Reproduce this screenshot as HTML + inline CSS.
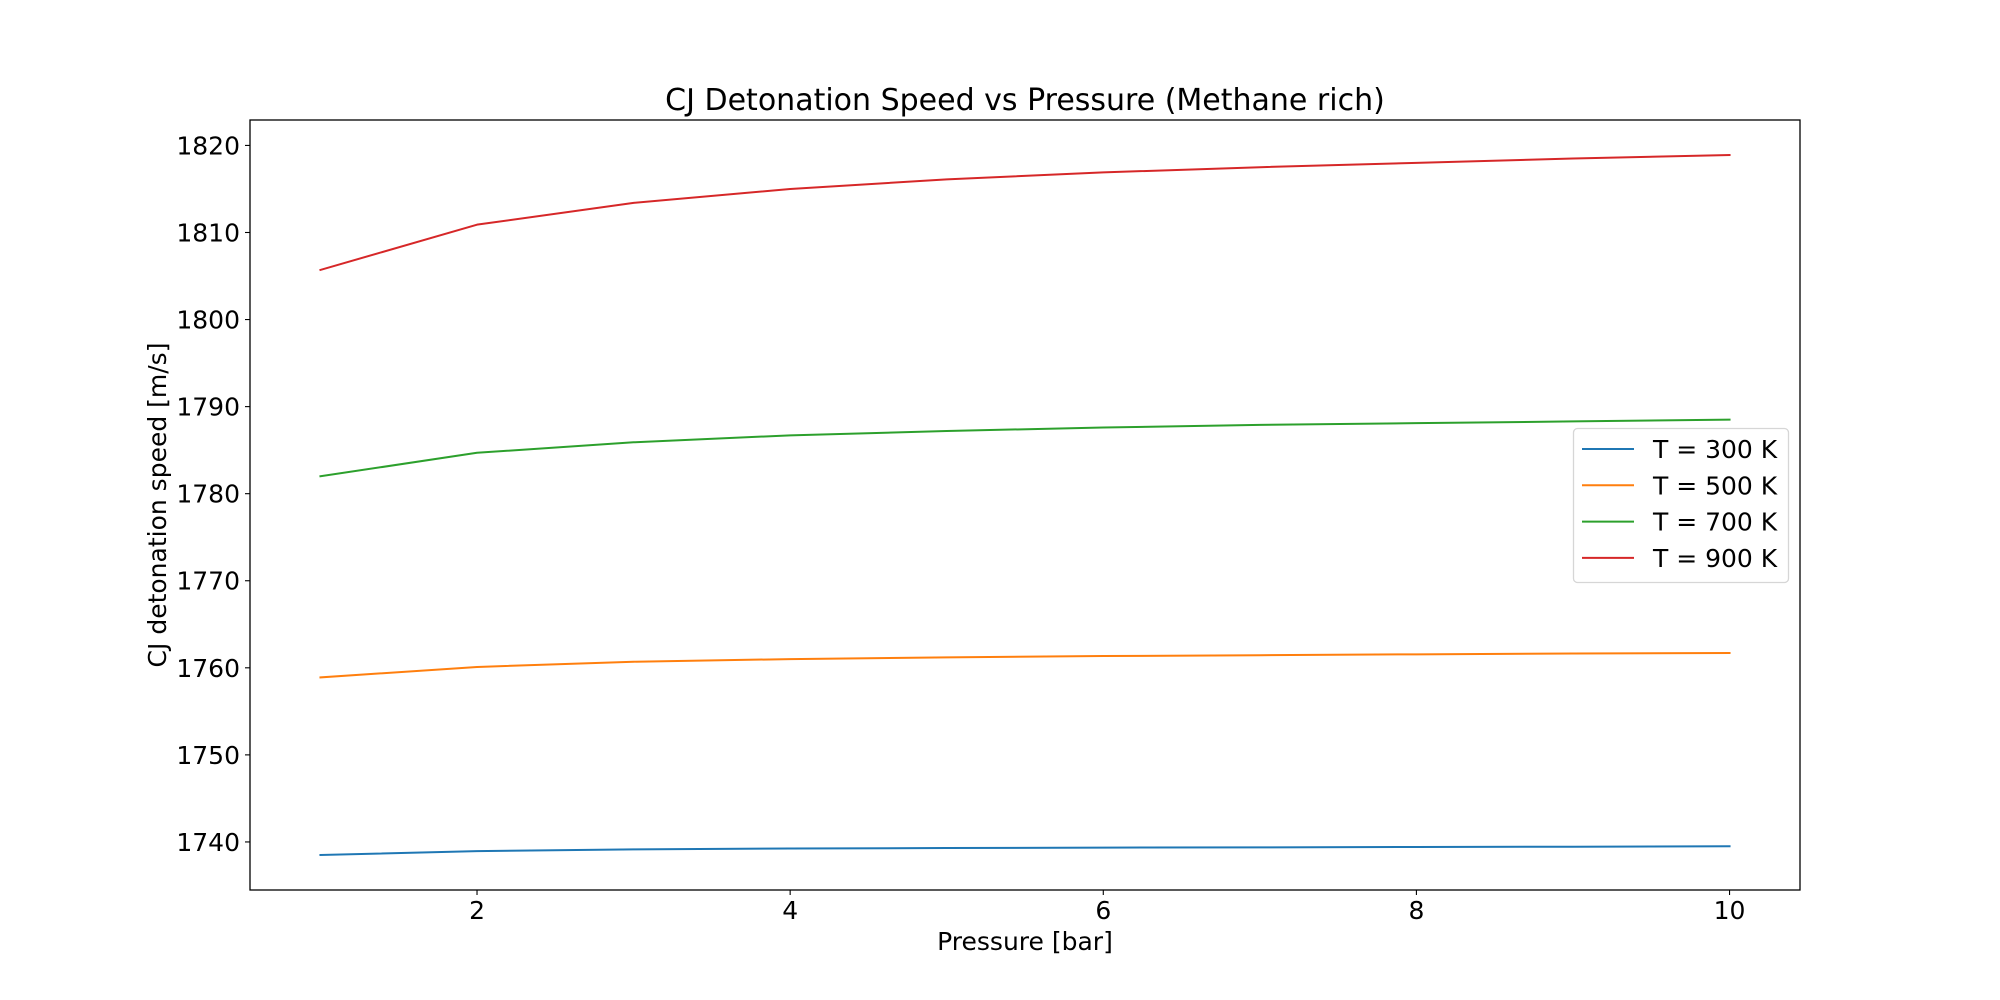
<!DOCTYPE html>
<html><head><meta charset="utf-8"><style>
html,body{margin:0;padding:0;background:#fff;}
svg{display:block;font-family:"DejaVu Sans","Liberation Sans",sans-serif;}
</style></head><body>
<svg id="chart" width="2000" height="1000" viewBox="0 0 2000 1000" xmlns="http://www.w3.org/2000/svg"></svg>
<script>
const pressures = [1,2,3,4,5,6,7,8,9,10];
const t300 = [1738.5,1738.95,1739.15,1739.25,1739.3,1739.35,1739.38,1739.42,1739.45,1739.5];
const t500 = [1758.9,1760.1,1760.7,1761.0,1761.2,1761.35,1761.45,1761.55,1761.65,1761.7];
const t700 = [1782.0,1784.7,1785.9,1786.7,1787.2,1787.6,1787.9,1788.1,1788.3,1788.5];
const t900 = [1805.7,1810.9,1813.4,1815.0,1816.1,1816.9,1817.5,1818.0,1818.5,1818.9];
const seriesLabels = ["T = 300 K","T = 500 K","T = 700 K","T = 900 K"];
const seriesColors = ["#1f77b4","#ff7f0e","#2ca02c","#d62728"];
const xTicks = [2,4,6,8,10];
const yTicks = [1740,1750,1760,1770,1780,1790,1800,1810,1820];

const NS="http://www.w3.org/2000/svg";
const svg=document.getElementById('chart');
const L=250,R=1800,T=120,B=890;
const allS=[t300,t500,t700,t900];
let ymin=Math.min(...allS.flat()),ymax=Math.max(...allS.flat());
const yp=(ymax-ymin)*0.05; ymin-=yp; ymax+=yp;
let xmin=Math.min(...pressures),xmax=Math.max(...pressures);
const xp=(xmax-xmin)*0.05; xmin-=xp; xmax+=xp;
const xs=v=>L+(v-xmin)/(xmax-xmin)*(R-L);
const ys=v=>B-(v-ymin)/(ymax-ymin)*(B-T);
function mk(tag,attrs,parent){const e=document.createElementNS(NS,tag);for(const k in attrs)e.setAttribute(k,attrs[k]);(parent||svg).appendChild(e);return e;}

const title=mk('text',{x:(L+R)/2,y:110,'text-anchor':'middle','font-size':'30px',fill:'#000'});


title.textContent='CJ Detonation Speed vs Pressure (Methane rich)';

allS.forEach((s,i)=>{
  const pts=s.map((v,j)=>xs(pressures[j]).toFixed(2)+','+ys(v).toFixed(2)).join(' ');
  const pl=mk('polyline',{points:pts,fill:'none',stroke:seriesColors[i],'stroke-width':2,'stroke-linejoin':'round','stroke-linecap':'square'});
  
  
});

const frame=mk('rect',{x:L,y:T,width:R-L,height:B-T,fill:'none',stroke:'#000','stroke-width':1.3});



xTicks.forEach(v=>{
  const x=xs(v);
  const tk=mk('line',{x1:x,x2:x,y1:B,y2:B+5,stroke:'#000','stroke-width':1.1});
  
  
  const t=mk('text',{x:x,y:B+29,'text-anchor':'middle','font-size':'25px'});
  
  
  t.textContent=v;
});
yTicks.forEach(v=>{
  const y=ys(v);
  const tk=mk('line',{x1:L-5,x2:L,y1:y,y2:y,stroke:'#000','stroke-width':1.1});
  
  
  const t=mk('text',{x:L-10,y:y+9,'text-anchor':'end','font-size':'25px'});
  
  
  t.textContent=v;
});

const xl=mk('text',{x:(L+R)/2,y:950,'text-anchor':'middle','font-size':'25px'});


xl.textContent='Pressure [bar]';
const yl=mk('text',{x:0,y:0,'text-anchor':'middle','font-size':'25px',transform:'translate(166,'+((T+B)/2)+') rotate(-90)'});


yl.textContent='CJ detonation speed [m/s]';

const lg=mk('g',{});


mk('rect',{x:1573.5,y:428.5,width:215,height:154,rx:4,fill:'#fff','fill-opacity':0.8,stroke:'#d6d6d6','stroke-width':1.3},lg);
seriesLabels.forEach((lab,i)=>{
  const y=449+i*36.3;
  const ln=mk('line',{x1:1582,x2:1634,y1:y,y2:y,stroke:seriesColors[i],'stroke-width':2},lg);
  
  
  const t=mk('text',{x:1653,y:y+9,'font-size':'25px'},lg);
  
  
  t.textContent=lab;
});
</script>
</body></html>
